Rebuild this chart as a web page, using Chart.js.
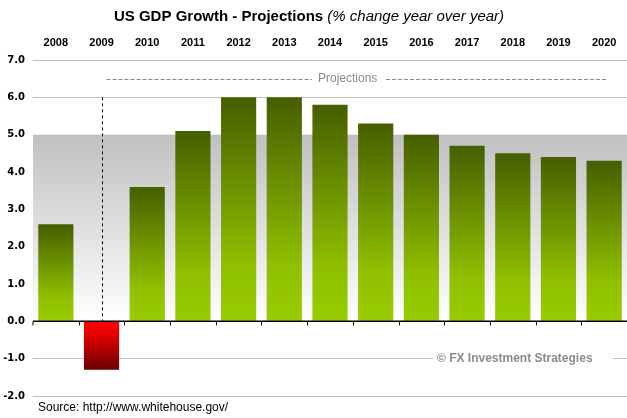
<!DOCTYPE html>
<html>
<head>
<meta charset="utf-8">
<script src="https://cdn.jsdelivr.net/npm/chart.js@4/dist/chart.umd.min.js"></script>
<style>
html,body{margin:0;padding:0;background:#fff;}
#wrap{width:627px;height:418px;position:relative;}
</style>
</head>
<body>
<div id="wrap"><canvas id="c" width="627" height="418"></canvas></div>
<script>
const years = ['2008','2009','2010','2011','2012','2013','2014','2015','2016','2017','2018','2019','2020'];
const growth = [2.6, -1.3, 3.6, 5.1, 6.0, 6.0, 5.8, 5.3, 5.0, 4.7, 4.5, 4.4, 4.3];
const yTicks = [7, 6, 5, 4, 3, 2, 1, 0, -1, -2];
const gridValues = [7, 6, -1, -2];
const bandRange = [0, 5];
const projectionStartYear = '2009';
const projectionLevel = 6.5;
const titleBold = 'US GDP Growth - Projections';
const titleItalic = ' (% change year over year)';
const projectionsLabel = 'Projections';
const watermark = '\u00A9 FX Investment Strategies';
const sourceText = 'Source: http://www.whitehouse.gov/';

function barColor(ctx) {
  const chart = ctx.chart;
  if (!chart.chartArea) return '#6a8a00';
  const y = chart.scales.y;
  const v = ctx.raw;
  const end = y.getPixelForValue(v);
  const base = y.getPixelForValue(0);
  const g = chart.ctx.createLinearGradient(0, base, 0, end);
  if (v >= 0) {
    g.addColorStop(0, '#99cc00');
    g.addColorStop(0.25, '#8fbf00');
    g.addColorStop(1, '#465e00');
  } else {
    g.addColorStop(0, '#ff0000');
    g.addColorStop(0.2, '#f20000');
    g.addColorStop(1, '#6a0000');
  }
  return g;
}

const decor = {
  id: 'decor',
  beforeDraw(chart) {
    const c = chart.ctx, a = chart.chartArea, y = chart.scales.y;
    const t = y.getPixelForValue(bandRange[1]), b = y.getPixelForValue(bandRange[0]);
    const g = c.createLinearGradient(0, t, 0, b);
    g.addColorStop(0, '#c0c0c0');
    g.addColorStop(1, '#ffffff');
    c.save();
    c.fillStyle = g;
    c.fillRect(a.left, t, a.right - a.left, b - t);
    c.restore();
  },
  afterDatasetsDraw(chart) {
    const c = chart.ctx, a = chart.chartArea, x = chart.scales.x, y = chart.scales.y;
    const y0 = y.getPixelForValue(0);
    c.save();
    c.strokeStyle = '#000';
    c.lineWidth = 1.5;
    c.beginPath();
    c.moveTo(a.left, y0); c.lineTo(a.right, y0);
    c.stroke();
    c.lineWidth = 1;
    const bounds = [a.left];
    for (let i = 0; i < years.length - 1; i++) {
      bounds.push(Math.round((x.getPixelForValue(i) + x.getPixelForValue(i + 1)) / 2) + 0.5);
    }
    c.beginPath();
    bounds.forEach(bx => { c.moveTo(bx, y0); c.lineTo(bx, y0 + 4); });
    c.stroke();
    const px = Math.round(x.getPixelForValue(years.indexOf(projectionStartYear))) + 0.5;
    c.setLineDash([3, 3]);
    c.beginPath();
    c.moveTo(px, y.getPixelForValue(6)); c.lineTo(px, y0);
    c.stroke();
    const py = Math.round(y.getPixelForValue(projectionLevel)) + 0.5;
    c.font = '12px "Liberation Sans", Arial, sans-serif';
    c.fillStyle = '#8a8a8a';
    c.textBaseline = 'middle';
    c.textAlign = 'left';
    c.fillText(projectionsLabel, 318, py - 1);
    c.strokeStyle = '#8a8a8a';
    c.setLineDash([4, 2]);
    c.beginPath();
    c.moveTo(px + 4, py); c.lineTo(312, py);
    c.moveTo(386, py); c.lineTo(606, py);
    c.stroke();
    c.setLineDash([]);
    const wy = y.getPixelForValue(-1);
    c.fillStyle = '#fff';
    c.fillRect(433, wy - 7, 180, 14);
    c.font = 'bold 12px "Liberation Sans", Arial, sans-serif';
    c.fillStyle = '#8c8c8c';
    c.fillText(watermark, 437, wy);
    c.textBaseline = 'alphabetic';
    c.fillStyle = '#000';
    c.font = 'bold 15px "Liberation Sans", Arial, sans-serif';
    const w1 = c.measureText(titleBold).width;
    c.font = 'italic 15px "Liberation Sans", Arial, sans-serif';
    const w2 = c.measureText(titleItalic).width;
    const sx = 309 - (w1 + w2) / 2;
    c.font = 'bold 15px "Liberation Sans", Arial, sans-serif';
    c.fillText(titleBold, sx, 21);
    c.font = 'italic 15px "Liberation Sans", Arial, sans-serif';
    c.fillText(titleItalic, sx + w1, 21);
    c.font = '12px "Liberation Sans", Arial, sans-serif';
    c.fillText(sourceText, 38, 411);
    c.restore();
  }
};

new Chart(document.getElementById('c'), {
  type: 'bar',
  data: {
    labels: years,
    datasets: [{
      data: growth,
      backgroundColor: barColor,
      borderWidth: 0,
      categoryPercentage: 1,
      barPercentage: 0.77
    }]
  },
  options: {
    responsive: false,
    animation: false,
    devicePixelRatio: 1,
    layout: { padding: { top: 0, bottom: 22, left: 0, right: 0 } },
    plugins: { legend: { display: false }, tooltip: { enabled: false }, title: { display: false } },
    scales: {
      x: {
        position: 'top',
        grid: { display: false, drawTicks: false },
        border: { display: false },
        ticks: {
          color: '#000',
          padding: 10,
          maxRotation: 0,
          font: { family: '"Liberation Sans Narrow", "Liberation Sans", Arial, sans-serif', weight: 'bold', size: 11 }
        },
        afterFit(scale) { scale.height = 60; }
      },
      y: {
        min: -2, max: 7,
        afterBuildTicks(scale) { scale.ticks = yTicks.map(v => ({ value: v })); },
        grid: {
          drawTicks: false,
          color: (ctx) => gridValues.includes(ctx.tick && ctx.tick.value) ? '#c0c0c0' : 'rgba(0,0,0,0)',
          lineWidth: 1
        },
        border: { display: false },
        ticks: {
          color: '#000',
          padding: 8,
          callback: (v) => Number(v).toFixed(1),
          font: { family: '"DejaVu Sans", Verdana, sans-serif', weight: 'bold', size: 10 }
        },
        afterFit(scale) { scale.width = 33; }
      }
    }
  },
  plugins: [decor]
});
</script>
</body>
</html>
